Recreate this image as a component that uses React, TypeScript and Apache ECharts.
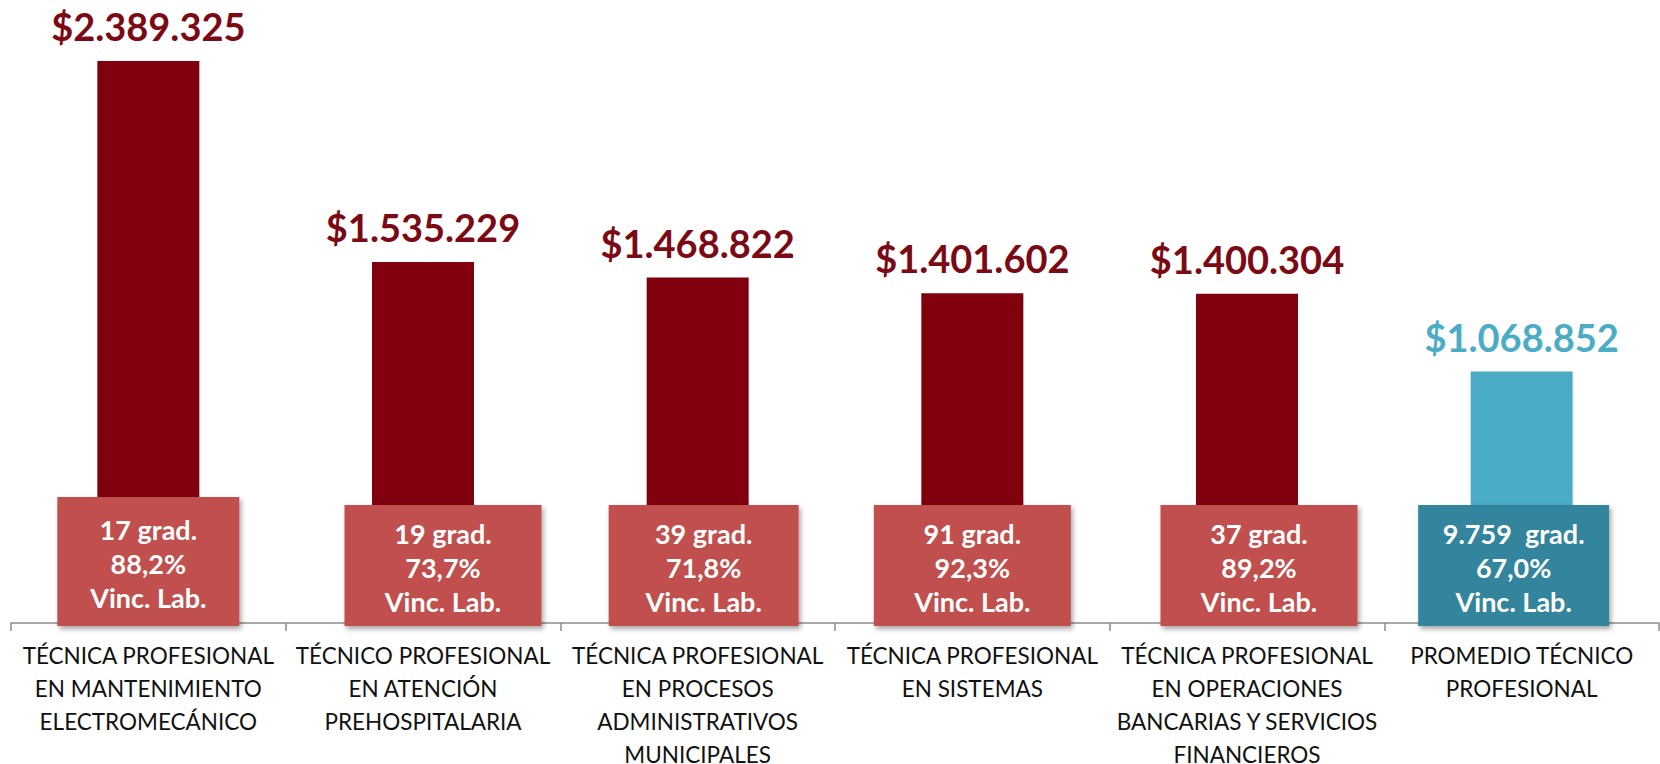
import React, { useEffect, useRef } from "react";
import * as echarts from "echarts";

const categories = [
  "TÉCNICA PROFESIONAL\nEN MANTENIMIENTO\nELECTROMECÁNICO",
  "TÉCNICO PROFESIONAL\nEN ATENCIÓN\nPREHOSPITALARIA",
  "TÉCNICA PROFESIONAL\nEN PROCESOS\nADMINISTRATIVOS\nMUNICIPALES",
  "TÉCNICA PROFESIONAL\nEN SISTEMAS",
  "TÉCNICA PROFESIONAL\nEN OPERACIONES\nBANCARIAS Y SERVICIOS\nFINANCIEROS",
  "PROMEDIO TÉCNICO\nPROFESIONAL",
];
const salaries = [2389325, 1535229, 1468822, 1401602, 1400304, 1068852];
const graduates = ["17", "19", "39", "91", "37", "9.759 "];
const employment = ["88,2%", "73,7%", "71,8%", "92,3%", "89,2%", "67,0%"];
const isAverage = [false, false, false, false, false, true];

// layout constants (pixels) for the annotation boxes
const boxShift = [0, 20, 6, 0, 12, -8];
const boxWidth = [182, 197, 190, 197, 197, 191];
const boxExtra = [8, 0, 0, 0, 0, 0];

const BAR_RED = "#80000E";
const LABEL_RED = "#7B0A14";
const BAR_BLUE = "#4BACC6";
const BOX_RED = "#C0504D";
const BOX_TEAL = "#31859C";

const fmt = (n: number) =>
  "$" + String(n).replace(/\B(?=(\d{3})+(?!\d))/g, ".");

export default function App() {
  const ref = useRef<HTMLDivElement>(null);

  useEffect(() => {
    document.body.style.margin = "0";
    if (!ref.current) return;
    const chart = echarts.init(ref.current, undefined, { renderer: "svg" });
    chart.setOption({
      animation: false,
      backgroundColor: "#ffffff",
      grid: {
        left: 11,
        right: 1,
        top: 61,
        bottom: 141,
        containLabel: false,
        outerBoundsMode: "none",
      },
      xAxis: {
        type: "category",
        data: categories,
        axisLine: { show: true, lineStyle: { color: "#8C8C8C", width: 1.5 } },
        axisTick: {
          show: true,
          alignWithLabel: false,
          length: 8,
          lineStyle: { color: "#8C8C8C", width: 1.5 },
        },
        axisLabel: {
          interval: 0,
          margin: 16,
          color: "#111111",
          fontFamily: "Lato",
          fontSize: 22.5,
          lineHeight: 33,
        },
      },
      yAxis: {
        type: "value",
        min: 0,
        max: 2389325,
        show: false,
        splitLine: { show: false },
      },
      series: [
        {
          type: "bar",
          barWidth: 102,
          z: 2,
          data: salaries.map((v, i) => ({
            value: v,
            itemStyle: { color: isAverage[i] ? BAR_BLUE : BAR_RED },
            label: { color: isAverage[i] ? BAR_BLUE : LABEL_RED },
          })),
          label: {
            show: true,
            position: "top",
            distance: 13,
            formatter: (p: any) => fmt(p.value),
            fontFamily: "Lato",
            fontWeight: "bold",
            fontSize: 38,
            lineHeight: 44,
          },
        },
        {
          type: "custom",
          z: 5,
          coordinateSystem: "cartesian2d",
          encode: { x: 0, y: 1 },
          data: categories.map((_, i) => [i, 0]),
          renderItem: (params: any, api: any) => {
            const idx = params.dataIndex;
            const p = api.coord([api.value(0), 0]);
            const cx = p[0] + boxShift[idx];
            const bottom = p[1] + 3;
            const w = boxWidth[idx];
            const h = 121 + boxExtra[idx];
            return {
              type: "group",
              children: [
                {
                  type: "rect",
                  shape: { x: cx - w / 2, y: bottom - h, width: w, height: h },
                  style: {
                    fill: isAverage[idx] ? BOX_TEAL : BOX_RED,
                    shadowBlur: 5,
                    shadowOffsetX: 2,
                    shadowOffsetY: 3,
                    shadowColor: "rgba(0,0,0,0.35)",
                  },
                },
                {
                  type: "text",
                  x: cx,
                  y: bottom - h / 2 + 2,
                  style: {
                    text: `${graduates[idx]} grad.\n${employment[idx]}\nVinc. Lab.`,
                    fill: "#ffffff",
                    fontFamily: "Lato",
                    fontWeight: "bold",
                    fontSize: 27,
                    lineHeight: 34,
                    align: "center",
                    verticalAlign: "middle",
                  },
                },
              ],
            };
          },
        },
      ],
    });
    return () => chart.dispose();
  }, []);

  return <div ref={ref} style={{ width: 1660, height: 764 }} />;
}
